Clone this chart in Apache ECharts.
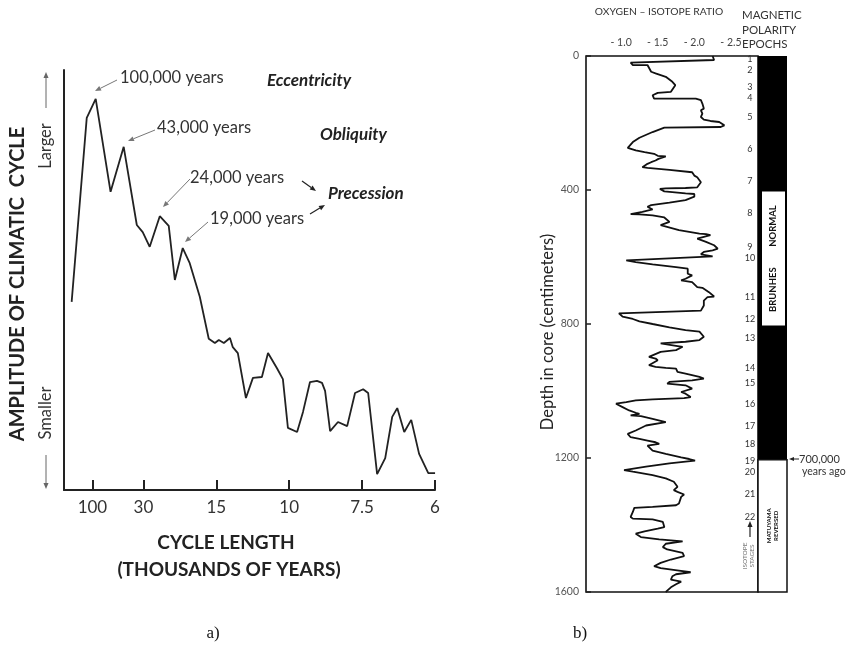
<!DOCTYPE html>
<html>
<head>
<meta charset="utf-8">
<script src="https://cdn.jsdelivr.net/npm/echarts@6/dist/echarts.min.js"></script>
<style>
  html, body { margin: 0; padding: 0; background: #fff; }
  #chart { width: 849px; height: 653px; }
</style>
</head>
<body>
<div id="chart"></div>
<script>
// a) Spectrum of climatic cycles: frequency (cycles per thousand years) and relative amplitude
const spectrumFreq = [0.0005, 0.0074, 0.0115, 0.0183, 0.0243, 0.0303, 0.0330, 0.0362, 0.0408, 0.0449,
  0.0477, 0.0513, 0.0545, 0.0591, 0.0632, 0.0660, 0.0678, 0.0701, 0.0729, 0.0742,
  0.0765, 0.0802, 0.0834, 0.0875, 0.0903, 0.0944, 0.0971, 0.0994, 0.1036, 0.1063,
  0.1095, 0.1127, 0.1150, 0.1164, 0.1187, 0.1223, 0.1265, 0.1301, 0.1338, 0.1361,
  0.1402, 0.1439, 0.1471, 0.1494, 0.1526, 0.1558, 0.1594, 0.1636, 0.1667];
const spectrumAmp = [44.8, 88.6, 93.1, 71.0, 81.7, 63.1, 61.4, 57.9, 65.2, 62.9,
  50.0, 57.6, 54.0, 46.0, 36.0, 35.0, 35.7, 35.0, 36.2, 34.0,
  32.6, 21.9, 26.7, 26.9, 32.6, 29.0, 26.4, 14.8, 13.8, 18.6,
  25.7, 26.0, 25.5, 23.6, 14.0, 16.2, 15.2, 23.1, 24.0, 23.1,
  3.8, 7.6, 17.4, 19.5, 13.8, 16.7, 8.6, 4.0, 4.0];
// cycle lengths (thousands of years) marked on the frequency axis
const periodTicks = [100, 30, 15, 10, 7.5, 6];

// b) Deep-sea core: oxygen-isotope ratio (per mil, shown negative) against depth (cm)
const isotopeProfile = [
  [2.25, 0], [2.27, 12], [1.13, 20], [1.16, 27], [1.36, 27], [1.34, 32], [1.41, 47], [1.47, 52],
  [1.54, 57], [1.61, 62], [1.70, 77], [1.74, 87], [1.71, 97], [1.68, 107], [1.50, 110], [1.43, 117],
  [1.45, 127], [2.02, 127], [2.09, 132], [2.11, 142], [2.09, 147], [2.13, 157], [2.09, 162], [2.11, 172],
  [2.09, 182], [2.13, 190], [2.22, 194], [2.34, 197], [2.41, 207], [2.36, 212], [1.59, 214], [1.43, 227],
  [1.25, 244], [1.16, 257], [1.09, 274], [1.20, 282], [1.32, 287], [1.45, 292], [1.50, 298], [1.61, 300],
  [1.51, 307], [1.47, 312], [1.41, 317], [1.36, 322], [1.29, 332], [1.36, 334], [1.66, 340], [1.97, 347],
  [2.00, 357], [2.04, 362], [2.09, 377], [2.04, 392], [1.88, 394], [1.61, 395], [1.53, 397], [1.59, 404],
  [1.88, 410], [2.00, 412], [2.00, 420], [1.88, 430], [1.66, 438], [1.41, 445], [1.36, 450], [1.43, 458],
  [1.29, 465], [1.13, 472], [1.25, 473], [1.43, 476], [1.59, 482], [1.66, 495], [1.54, 505], [1.52, 510],
  [1.79, 520], [2.07, 530], [2.16, 532], [2.22, 535], [2.04, 545], [2.16, 555], [2.27, 565], [2.32, 575],
  [2.25, 580], [2.13, 585], [2.09, 592], [2.25, 598], [1.07, 610], [1.20, 615], [1.43, 622], [1.75, 630],
  [1.91, 635], [1.91, 650], [1.97, 655], [1.88, 665], [1.82, 670], [1.97, 675], [2.04, 690], [2.11, 692],
  [2.20, 705], [2.27, 718], [2.18, 720], [2.13, 730], [2.13, 745], [2.09, 760], [0.97, 768], [1.02, 778],
  [1.16, 785], [1.25, 792], [1.43, 800], [1.66, 810], [1.88, 818], [2.07, 823], [2.13, 838], [2.07, 848],
  [1.88, 853], [1.54, 858], [1.75, 865], [1.84, 868], [1.75, 878], [1.54, 883], [1.38, 898], [1.47, 903],
  [1.50, 908], [1.38, 923], [1.47, 928], [1.61, 931], [1.75, 933], [1.77, 943], [1.88, 948], [2.07, 958],
  [2.13, 963], [1.97, 968], [1.66, 973], [1.63, 978], [1.88, 983], [1.97, 993], [1.82, 1003], [1.88, 1008],
  [1.95, 1018], [1.86, 1021], [1.43, 1025], [1.20, 1028], [1.07, 1033], [0.93, 1038], [0.95, 1043], [1.02, 1048],
  [1.11, 1058], [1.20, 1065], [1.25, 1068], [1.13, 1073], [1.27, 1075], [1.43, 1083], [1.61, 1093], [1.63, 1098],
  [1.34, 1103], [1.20, 1118], [1.09, 1128], [1.13, 1138], [1.25, 1143], [1.36, 1148], [1.47, 1153], [1.52, 1158],
  [1.36, 1163], [1.34, 1168], [1.43, 1178], [1.61, 1188], [1.82, 1198], [1.93, 1203], [2.01, 1208], [1.88, 1211],
  [1.66, 1216], [1.34, 1226], [1.04, 1236], [1.16, 1241], [1.43, 1251], [1.61, 1261], [1.72, 1271], [1.77, 1286],
  [1.72, 1296], [1.77, 1301], [1.86, 1309], [1.82, 1316], [1.79, 1336], [1.75, 1341], [1.43, 1346], [1.18, 1349],
  [1.16, 1361], [1.13, 1376], [1.16, 1381], [1.43, 1383], [1.57, 1391], [1.59, 1406], [1.50, 1411], [1.32, 1419],
  [1.20, 1426], [1.18, 1431], [1.27, 1436], [1.52, 1443], [1.84, 1449], [1.61, 1456], [1.57, 1466], [1.63, 1473],
  [1.84, 1483], [1.86, 1493], [1.68, 1503], [1.54, 1513], [1.45, 1523], [1.54, 1529], [1.79, 1536], [1.95, 1541],
  [1.75, 1547], [1.70, 1553], [1.68, 1563], [1.82, 1569], [1.75, 1577], [1.68, 1586], [1.63, 1596], [1.61, 1600]
];
const ratioTicks = [1.0, 1.5, 2.0, 2.5];
const depthTicks = [0, 400, 800, 1200, 1600];

// isotope stages and the depth at which each is labelled
const stageNumbers = [1, 2, 3, 4, 5, 6, 7, 8, 9, 10, 11, 12, 13, 14, 15, 16, 17, 18, 19, 20, 21, 22];
const stageDepths = [9, 42, 93, 125, 182, 278, 373, 470, 569, 603, 719, 785, 842, 931, 976, 1038, 1104, 1158, 1209, 1242, 1307, 1376];

// magnetic polarity epochs: depth range and polarity (1 = normal, 0 = reversed)
const epochNames = ['BRUNHES NORMAL', 'MATUYAMA REVERSED'];
const epochTop = [0, 1205];
const epochBottom = [1205, 1600];
const epochNormal = [1, 0];
const boundaryAge = '700,000';

const SANS = 'Lato, "Noto Sans", sans-serif';

const chart = echarts.init(document.getElementById('chart'), null, { renderer: 'canvas' });

function periodLabel(f) {
  return String(Math.round(10 / f) / 10);
}

function arrow(x1, y1, x2, y2, color, width, head) {
  const a = Math.atan2(y2 - y1, x2 - x1);
  const bx = x2 - head * Math.cos(a), by = y2 - head * Math.sin(a);
  const hw = head * 0.42;
  const px = -Math.sin(a) * hw, py = Math.cos(a) * hw;
  return [
    { type: 'line', silent: true, shape: { x1: x1, y1: y1, x2: bx, y2: by }, style: { stroke: color, lineWidth: width } },
    { type: 'polygon', silent: true, shape: { points: [[x2, y2], [bx + px, by + py], [bx - px, by - py]] }, style: { fill: color } }
  ];
}

function label(x, y, text, font, opts) {
  opts = opts || {};
  return {
    type: 'text', silent: true, x: x, y: y, rotation: opts.rotation || 0,
    style: {
      text: text, font: font, fill: opts.fill || '#222',
      align: opts.align || 'left', textAlign: opts.align || 'left',
      verticalAlign: 'middle', textVerticalAlign: 'middle',
      lineHeight: opts.lineHeight
    }
  };
}

const graphics = [
  // panel a) annotations
  label(120, 78, '100,000 years', '16.5px ' + SANS, { fill: '#333' }),
  label(157, 128, '43,000 years', '16.5px ' + SANS, { fill: '#333' }),
  label(190, 178, '24,000 years', '16.5px ' + SANS, { fill: '#333' }),
  label(210, 219, '19,000 years', '16.5px ' + SANS, { fill: '#333' }),
  label(267, 81, 'Eccentricity', 'italic bold 17px ' + SANS, { fill: '#222' }),
  label(320, 135, 'Obliquity', 'italic bold 17px ' + SANS, { fill: '#222' }),
  label(328, 194, 'Precession', 'italic bold 17px ' + SANS, { fill: '#222' }),
  label(46, 146, 'Larger', '16.5px ' + SANS, { fill: '#333', rotation: Math.PI / 2, align: 'center' }),
  label(46, 413, 'Smaller', '16.5px ' + SANS, { fill: '#333', rotation: Math.PI / 2, align: 'center' }),
  label(18, 284, 'AMPLITUDE OF CLIMATIC  CYCLE', 'bold 20px ' + SANS, { rotation: Math.PI / 2, align: 'center' }),
  label(226, 543, 'CYCLE LENGTH', 'bold 19px ' + SANS, { align: 'center' }),
  label(229, 570, '(THOUSANDS OF YEARS)', 'bold 19px ' + SANS, { align: 'center' }),
  label(213, 634, 'a)', '17px "Liberation Serif", serif', { align: 'center', fill: '#111' }),
  label(580, 634, 'b)', '17px "Liberation Serif", serif', { align: 'center', fill: '#111' }),
  // panel b) headings and notes
  label(659, 12, 'OXYGEN \u2013 ISOTOPE RATIO', '10.3px ' + SANS, { align: 'center', fill: '#333' }),
  label(742, 15, 'MAGNETIC', '11.5px ' + SANS, { fill: '#333' }),
  label(742, 30, 'POLARITY', '11.5px ' + SANS, { fill: '#333' }),
  label(742, 44, 'EPOCHS', '11.5px ' + SANS, { fill: '#333' }),
  label(548, 332, 'Depth in core (centimeters)', '16.5px ' + SANS, { rotation: Math.PI / 2, align: 'center', fill: '#222' }),
  label(799, 459, boundaryAge, '11px ' + SANS, { fill: '#333' }),
  label(802, 472, 'years ago', '10.5px ' + SANS, { fill: '#333' }),
  label(748, 556, 'ISOTOPE\nSTAGES', '6.5px ' + SANS, { rotation: Math.PI / 2, align: 'center', fill: '#777', lineHeight: 7 })
].concat(
  arrow(117, 80, 95, 91, '#777', 1, 6),
  arrow(155, 130, 128, 141, '#777', 1, 6),
  arrow(190, 179, 163, 207, '#777', 1, 6),
  arrow(208, 222, 185, 242, '#777', 1, 6),
  arrow(302, 181, 316, 191, '#222', 1.2, 6),
  arrow(310, 214, 325, 205, '#222', 1.2, 6),
  arrow(46, 108, 46, 72, '#666', 1, 6),
  arrow(46, 455, 46, 489, '#666', 1, 6),
  arrow(799, 459, 789, 459, '#222', 1, 5),
  arrow(750, 537, 750, 521, '#222', 1.2, 6)
);

const option = {
  animation: false,
  backgroundColor: '#fff',
  textStyle: { fontFamily: SANS },
  grid: [
    { left: 64, top: 70, width: 371, height: 420, show: false },
    { left: 586, top: 56, width: 172, height: 536, show: true, borderColor: '#111', borderWidth: 1.6, backgroundColor: 'transparent' },
    { left: 758, top: 56, width: 29, height: 536, show: false }
  ],
  xAxis: [
    {
      gridIndex: 0, type: 'value', min: -0.003, max: 1 / 6,
      axisLine: { show: true, onZero: false, lineStyle: { color: '#222', width: 2 } },
      axisTick: { show: true, inside: true, length: 10, customValues: periodTicks.map(p => 1 / p), lineStyle: { color: '#222', width: 2 } },
      axisLabel: { customValues: periodTicks.map(p => 1 / p), formatter: periodLabel, margin: 9, fontSize: 17, color: '#333', fontFamily: SANS },
      splitLine: { show: false }
    },
    {
      gridIndex: 1, type: 'value', position: 'top', min: 0.52, max: 2.87,
      axisLine: { show: false }, axisTick: { show: false },
      axisLabel: { customValues: ratioTicks, formatter: v => '- ' + v.toFixed(1), margin: 8, fontSize: 10.5, color: '#444', fontFamily: SANS },
      splitLine: { show: false }
    },
    { gridIndex: 2, type: 'value', min: 0, max: 1, show: false }
  ],
  yAxis: [
    {
      gridIndex: 0, type: 'value', min: 0, max: 100,
      axisLine: { show: true, onZero: false, lineStyle: { color: '#222', width: 2 } },
      axisTick: { show: false }, axisLabel: { show: false }, splitLine: { show: false }
    },
    {
      gridIndex: 1, type: 'value', inverse: true, min: depthTicks[0], max: depthTicks[depthTicks.length - 1], interval: 400,
      axisLine: { show: false, onZero: false },
      axisTick: { show: true, inside: true, length: 5, lineStyle: { color: '#222', width: 1.5 } },
      axisLabel: { fontSize: 10.5, color: '#555', margin: 7, fontFamily: SANS, formatter: v => String(v) },
      splitLine: { show: false }
    },
    { gridIndex: 2, type: 'value', inverse: true, min: 0, max: 1600, show: false }
  ],
  series: [
    {
      type: 'line', xAxisIndex: 0, yAxisIndex: 0,
      data: spectrumFreq.map((f, i) => [f, spectrumAmp[i]]),
      showSymbol: false, symbol: 'none',
      lineStyle: { color: '#222', width: 1.8 }
    },
    {
      type: 'line', xAxisIndex: 1, yAxisIndex: 1,
      data: isotopeProfile,
      showSymbol: false, symbol: 'none',
      lineStyle: { color: '#111', width: 1.8 }
    },
    {
      type: 'custom', xAxisIndex: 2, yAxisIndex: 2,
      data: epochNames.map((n, i) => [epochTop[i], epochBottom[i], epochNormal[i]]),
      renderItem: function (params, api) {
        const t = api.value(0), b = api.value(1);
        const p0 = api.coord([0, t]), p1 = api.coord([1, b]);
        const x = p0[0], y = p0[1], w = p1[0] - p0[0], h = p1[1] - p0[1];
        const name = epochNames[params.dataIndex].split(' ');
        const cx = x + w / 2 + 0.5;
        if (api.value(2) === 1) {
          const mid = (t + b) / 2;
          const q0 = api.coord([0, mid - 198]), q1 = api.coord([1, mid + 202]);
          const c1 = api.coord([0, mid + 95]), c2 = api.coord([0, mid - 95]);
          return {
            type: 'group', children: [
              { type: 'rect', shape: { x: x, y: y, width: w, height: h }, style: { fill: '#000' } },
              { type: 'rect', shape: { x: q0[0] + 4, y: q0[1], width: q1[0] - q0[0] - 6, height: q1[1] - q0[1] }, style: { fill: '#fff' } },
              { type: 'text', x: cx, y: c1[1], rotation: Math.PI / 2, style: { text: name[0], font: 'bold 9.5px ' + SANS, fill: '#111', align: 'center', verticalAlign: 'middle' } },
              { type: 'text', x: cx, y: c2[1], rotation: Math.PI / 2, style: { text: name[1], font: 'bold 9.5px ' + SANS, fill: '#111', align: 'center', verticalAlign: 'middle' } }
            ]
          };
        }
        return {
          type: 'group', children: [
            { type: 'rect', shape: { x: x, y: y, width: w, height: h }, style: { fill: '#fff', stroke: '#111', lineWidth: 1.5 } },
            { type: 'text', x: cx, y: y + h / 2, rotation: Math.PI / 2, style: { text: name.join('\n'), font: 'bold 6px ' + SANS, fill: '#111', align: 'center', verticalAlign: 'middle', lineHeight: 7 } }
          ]
        };
      }
    },
    {
      type: 'custom', xAxisIndex: 1, yAxisIndex: 1,
      data: stageNumbers.map((n, i) => [2.76, stageDepths[i], n]),
      renderItem: function (params, api) {
        const p = api.coord([api.value(0), api.value(1)]);
        return {
          type: 'text', x: p[0], y: p[1],
          style: { text: String(api.value(2)), font: '9px ' + SANS, fill: '#333', align: 'center', verticalAlign: 'middle' }
        };
      }
    }
  ],
  graphic: graphics
};

chart.setOption(option);
</script>
</body>
</html>
